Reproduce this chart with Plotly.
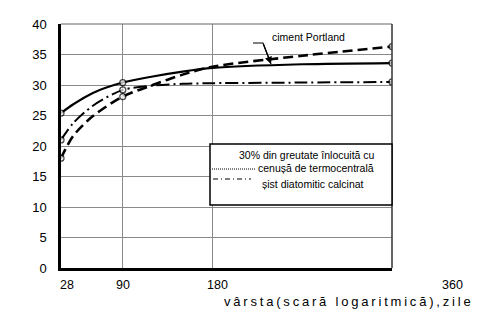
import plotly.graph_objects as go

# ---- data ----
days = [28, 40, 60, 90, 120, 150, 180, 270, 360]
portland = [25.4, 26.8, 28.7, 30.4, 31.4, 32.2, 32.8, 33.4, 33.6]
cenusa = [18.0, 21.6, 24.9, 28.1, 30.0, 31.7, 33.0, 34.8, 36.3]
sist = [21.0, 23.7, 26.6, 29.2, 29.9, 30.2, 30.3, 30.4, 30.5]
marker_days = [28, 90, 360]

x_ticks = [28, 90, 180, 360]
x_tick_labels = ["28", "90", "180", "360"]
y_ticks = [0, 5, 10, 15, 20, 25, 30, 35, 40]

FONT = "Liberation Sans, Arial, sans-serif"

# plot area in pixels
L, R, T, B = 61, 392, 24, 268
W, H = 478, 320


def px(x):
    return (x - L) / (R - L)


def py(y):
    return (B - y) / (B - T)


def msizes(d):
    return [6 if v in marker_days else 0 for v in d]


fig = go.Figure()
series = [
    (portland, None, 2.2),
    (cenusa, "10px,5px", 2.6),
    (sist, "13px,4px,2px,4px", 2.0),
]
for vals, dash, w in series:
    fig.add_trace(go.Scatter(
        x=days, y=vals, mode="lines+markers",
        line=dict(color="black", width=w, dash=dash, shape="spline", smoothing=0.8),
        marker=dict(size=msizes(days), color="white", line=dict(color="black", width=1.3)),
        showlegend=False, hoverinfo="skip",
    ))

shapes = [
    # top / right frame
    dict(type="line", xref="paper", yref="paper", x0=0, x1=1, y0=1, y1=1,
         line=dict(color="#666", width=1)),
    dict(type="line", xref="paper", yref="paper", x0=1, x1=1, y0=0, y1=1,
         line=dict(color="#333", width=1.5)),
    # legend box
    dict(type="rect", xref="paper", yref="paper", x0=px(210), x1=px(392), y0=py(205), y1=py(144),
         fillcolor="white", line=dict(color="black", width=1.5), layer="above"),
    dict(type="line", xref="paper", yref="paper", x0=px(212), x1=px(255), y0=py(169), y1=py(169),
         line=dict(color="black", width=1, dash="1px,1px"), layer="above"),
    dict(type="line", xref="paper", yref="paper", x0=px(213), x1=px(251), y0=py(179), y1=py(179),
         line=dict(color="black", width=1, dash="5px,3px,1px,3px"), layer="above"),
    # leader for "ciment Portland"
    dict(type="path", xref="paper", yref="paper",
         path=f"M {px(253)},{py(43)} L {px(263)},{py(43)} L {px(271)},{py(64)}",
         line=dict(color="black", width=1.2)),
]

annotations = []
for v, t in zip(x_ticks, x_tick_labels):
    shift = {28: 5.5, 90: 0, 180: 5, 360: 60}[v]
    annotations.append(dict(x=v, xref="x", y=0, yref="paper", text=t, showarrow=False,
                            xanchor="center", yanchor="middle", xshift=shift, yshift=-17,
                            font=dict(family=FONT, size=12.5, color="black")))
annotations += [
    dict(x=px(222), y=py(301.5), xref="paper", yref="paper",
         text='<span style="letter-spacing:2.8px">vârsta(scară logaritmică),zile</span>',
         showarrow=False, xanchor="left", yanchor="middle",
         font=dict(family=FONT, size=13, color="black")),
    dict(x=px(270), y=py(37), xref="paper", yref="paper", text="ciment Portland",
         showarrow=False, xanchor="left", yanchor="middle",
         font=dict(family=FONT, size=10.5, color="black")),
    dict(x=px(307), y=py(155), xref="paper", yref="paper", text="30% din greutate înlocuită cu",
         showarrow=False, xanchor="center", yanchor="middle",
         font=dict(family=FONT, size=10.5, color="black")),
    dict(x=px(256), y=py(167.5), xref="paper", yref="paper", text="cenușă de termocentrală",
         showarrow=False, xanchor="left", yanchor="middle",
         font=dict(family=FONT, size=10.5, color="black")),
    dict(x=px(260), y=py(184), xref="paper", yref="paper", text="șist diatomitic calcinat",
         showarrow=False, xanchor="left", yanchor="middle",
         font=dict(family=FONT, size=10.5, color="black")),
    # arrowhead onto the Portland curve
    dict(x=px(271), y=py(64), xref="paper", yref="paper", ax=-8, ay=-21, text="",
         showarrow=True, arrowhead=2, arrowsize=1.2, arrowwidth=1.2, arrowcolor="black"),
]

fig.update_layout(
    width=W, height=H,
    margin=dict(l=L, r=W - R, t=T, b=H - B, pad=0),
    paper_bgcolor="white", plot_bgcolor="white",
    font=dict(family=FONT, size=12, color="black"),
    xaxis=dict(range=[28, 360], tickvals=x_ticks, showticklabels=False, ticks="",
               showgrid=True, gridcolor="#8a8a8a", gridwidth=1,
               showline=True, linecolor="black", linewidth=2.5, zeroline=False, fixedrange=True),
    yaxis=dict(range=[0, 40], tickvals=y_ticks, ticks="", ticklabelstandoff=9,
               showgrid=True, gridcolor="#8a8a8a", gridwidth=1,
               tickfont=dict(family=FONT, size=13, color="black"),
               showline=True, linecolor="black", linewidth=2.5, zeroline=False, fixedrange=True),
    shapes=shapes, annotations=annotations,
)

fig.write_html("out.html", config={"displayModeBar": False})
